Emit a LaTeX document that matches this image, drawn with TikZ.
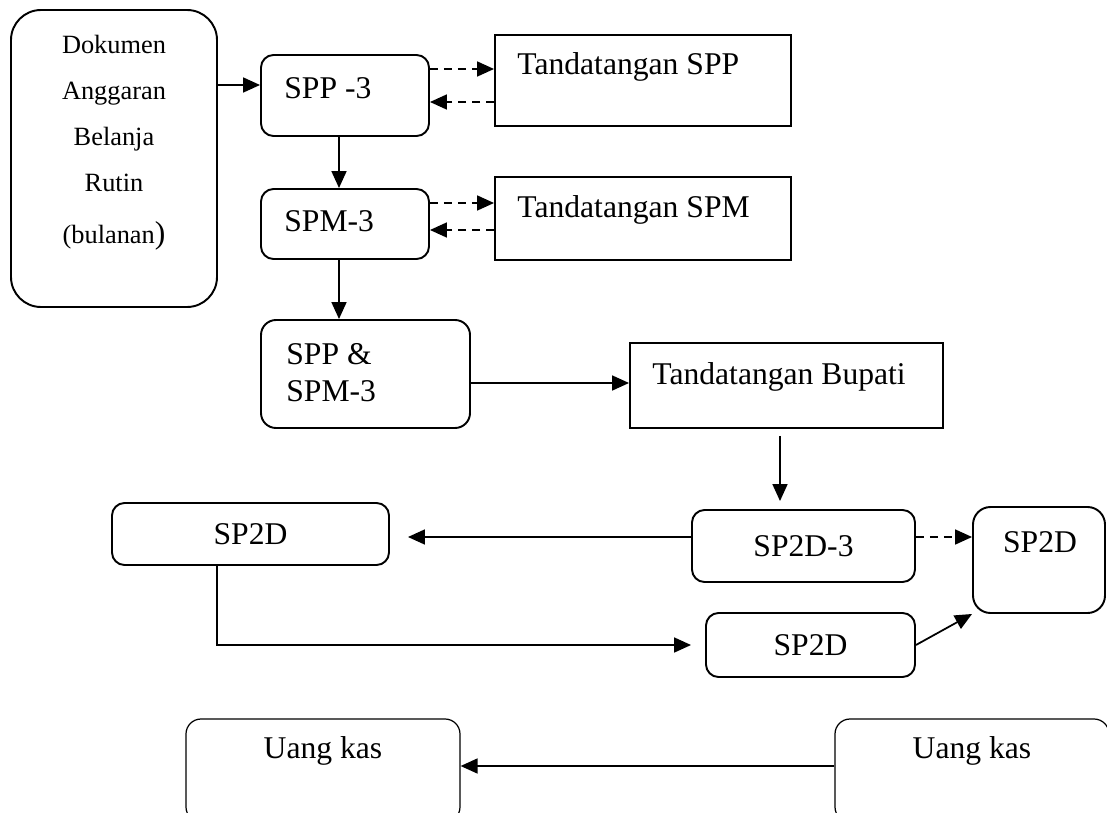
\documentclass[tikz,border=0pt]{standalone}
\usepackage{fontspec}
\setmainfont{Liberation Serif}
\usetikzlibrary{arrows.meta,positioning}

\begin{document}
\begin{tikzpicture}[
    box/.style={rectangle, draw, line width=1.1pt, rounded corners=0.25cm,
                inner sep=0pt, font=\fontsize{18}{21}\selectfont},
    sbox/.style={rectangle, draw, line width=1.1pt, inner sep=0pt},
    kasbox/.style={box, line width=0.7pt, rounded corners=0.3cm,
                minimum width=5.48cm, minimum height=2.06cm},
    arr/.style={-{Triangle[length=0.34cm,width=0.3cm]}, line width=1pt},
    darr/.style={arr, dash pattern=on 0.16cm off 0.12cm},
    txt/.style={inner sep=0pt, font=\fontsize{18}{21}\selectfont},
  ]
  \fill[white] (0,0) rectangle (22.14,16.24);
  \useasboundingbox (0,0) rectangle (22.14,16.24);

  % Dokumen anggaran
  \node[box, rounded corners=0.6cm, minimum width=4.12cm, minimum height=5.94cm] (doc) at (2.28, 13.07) {};
  \node[txt, font=\fontsize{15}{26.1}\selectfont, align=center, anchor=north] (doctxt) at (2.28, 15.54)
    {Dokumen\\Anggaran\\Belanja\\Rutin\\[3.4pt](bulanan{\fontsize{18}{21}\selectfont)}};

  % SPP -3 / SPM-3
  \node[box, minimum width=3.36cm, minimum height=1.62cm] (spp) at (6.90, 14.33) {};
  \node[txt, anchor=base west] (spptxt) at (5.68, 14.26) {SPP -3};
  \node[box, minimum width=3.36cm, minimum height=1.40cm] (spm) at (6.90, 11.76) {};
  \node[txt, anchor=base west] (spmtxt) at (5.68, 11.60) {SPM-3};

  % Tandatangan
  \node[sbox, minimum width=5.92cm, minimum height=1.82cm] (tspp) at (12.86, 14.63) {};
  \node[txt, anchor=base west] (tspptxt) at (10.34, 14.74) {Tandatangan SPP};
  \node[sbox, minimum width=5.92cm, minimum height=1.66cm] (tspm) at (12.86, 11.87) {};
  \node[txt, anchor=base west] (tspmtxt) at (10.34, 11.88) {Tandatangan SPM};

  % SPP & SPM-3
  \node[box, rounded corners=0.3cm, minimum width=4.18cm, minimum height=2.16cm] (sppm) at (7.31, 8.76) {};
  \node[txt, align=left, anchor=north west] (sppmtxt) at (5.72, 9.38) {SPP \&\\SPM-3};

  % Bupati
  \node[sbox, minimum width=6.26cm, minimum height=1.70cm] (tbup) at (15.73, 8.53) {};
  \node[txt, anchor=base west] (tbuptxt) at (13.04, 8.56) {Tandatangan Bupati};

  % SP2D
  \node[box, minimum width=4.46cm, minimum height=1.44cm] (sp2d3) at (16.07, 5.32) {SP2D-3};
  \node[box, minimum width=5.54cm, minimum height=1.24cm] (sp2da) at (5.01, 5.56) {SP2D};
  \node[box, minimum width=4.18cm, minimum height=1.28cm] (sp2db) at (16.21, 3.34) {SP2D};
  \node[box, rounded corners=0.35cm, minimum width=2.64cm, minimum height=2.12cm] (sp2dr) at (20.78, 5.04) {};
  \node[txt, anchor=base] (sp2drtxt) at (20.80, 5.20) {SP2D};

  % Uang kas
  \node[kasbox] (kasa) at (6.46, 0.83) {};
  \node[txt, anchor=base] (kasatxt) at (6.46, 1.08) {Uang kas};
  \node[kasbox] (kasb) at (19.44, 0.83) {};
  \node[txt, anchor=base] (kasbtxt) at (19.44, 1.08) {Uang kas};

  % Arrows
  \draw[arr] ([yshift=0.21cm]spp.west -| doc.east) -- ([yshift=0.21cm]spp.west);
  \draw[darr] ([yshift=0.53cm]spp.east) -- ([yshift=0.53cm]spp.east -| tspp.west);
  \draw[darr] ([yshift=-0.13cm]spp.east -| tspp.west) -- ([yshift=-0.13cm]spp.east);
  \draw[darr] ([yshift=0.42cm]spm.east) -- ([yshift=0.42cm]spm.east -| tspm.west);
  \draw[darr] ([yshift=-0.12cm]spm.east -| tspm.west) -- ([yshift=-0.12cm]spm.east);
  \draw[arr] ([xshift=-0.12cm]spp.south) -- ([xshift=-0.12cm]spm.north);
  \draw[arr] ([xshift=-0.12cm]spm.south) -- ([xshift=-0.12cm]spm.south |- sppm.north);
  \draw[arr] ([yshift=-0.18cm]sppm.east) -- ([yshift=-0.18cm]sppm.east -| tbup.west);
  \draw[arr, shorten <=0.14cm, shorten >=0.16cm] ([xshift=-0.13cm]tbup.south) -- ([xshift=-0.13cm]tbup.south |- sp2d3.north);
  \draw[arr, shorten >=0.36cm] ([yshift=0.18cm]sp2d3.west) -- ([yshift=0.18cm]sp2d3.west -| sp2da.east);
  \draw[darr] ([yshift=0.18cm]sp2d3.east) -- ([yshift=0.18cm]sp2d3.east -| sp2dr.west);
  \draw[arr, shorten >=0.28cm] ([xshift=-0.67cm]sp2da.south) |- (sp2db.west);
  \draw[arr] (sp2db.east) -- (sp2dr.south west);
  \draw[arr] ([yshift=0.09cm]kasb.west) -- ([yshift=0.09cm]kasb.west -| kasa.east);

\end{tikzpicture}
\end{document}
